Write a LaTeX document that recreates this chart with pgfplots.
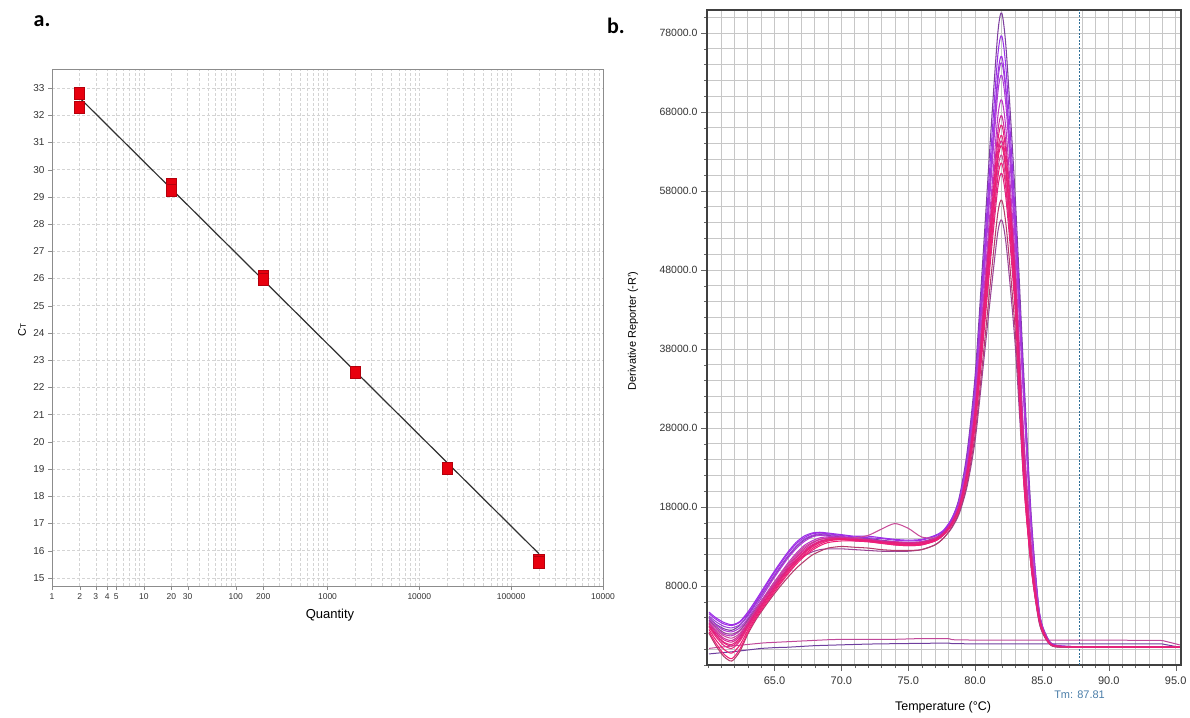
\documentclass[border=0pt]{standalone}
\usepackage{fontspec}
\setmainfont{Liberation Sans}
\newfontfamily\panelfont{Carlito}
\usepackage{pgfplots}
\pgfplotsset{compat=1.18}

% standard-curve colours
\definecolor{ptred}{HTML}{E8000E}
\definecolor{ptedge}{HTML}{B4000C}
\definecolor{fitline}{HTML}{303030}
% melt-curve colours (violet -> magenta)
\definecolor{m1}{HTML}{7E3FA0}
\definecolor{m2}{HTML}{9B30E8}
\definecolor{m3}{HTML}{A22CE6}
\definecolor{m4}{HTML}{9F3FD8}
\definecolor{m5}{HTML}{B03AD8}
\definecolor{m6}{HTML}{BF36C4}
\definecolor{m7}{HTML}{D02C9E}
\definecolor{m8}{HTML}{E4207C}
\definecolor{m9}{HTML}{E82A80}
\definecolor{m10}{HTML}{D8288E}
\definecolor{m11}{HTML}{EC1E74}
\definecolor{m12}{HTML}{C84C98}
\definecolor{m13}{HTML}{F01F78}
\definecolor{m14}{HTML}{DC2682}
\definecolor{m15}{HTML}{B43C6C}
\definecolor{m16}{HTML}{9A4496}
\definecolor{ntc1}{HTML}{C0489A}
\definecolor{ntc2}{HTML}{6E3E9E}
\definecolor{tmline}{HTML}{2E6E96}
\definecolor{tmtext}{HTML}{4A7DA8}

\pgfplotsset{melt/.style={line width=1.05pt, smooth, tension=0.45}}

\begin{document}
\begin{tikzpicture}
\path[use as bounding box] (0pt,0pt) rectangle (1190pt,717pt);
\node[font=\panelfont\bfseries\fontsize{22}{24}\selectfont] at (42pt,696pt) {a.};
\node[font=\panelfont\bfseries\fontsize{22}{24}\selectfont] at (616pt,691pt) {b.};

% ---------------- a. standard curve ----------------
\begin{axis}[
  scale only axis, width=551pt, height=517pt,
  at={(52pt,131pt)}, anchor=south west,
  xmode=log, xmin=1, xmax=1000000, ymin=14.7, ymax=33.7,
  xtick={1,2,3,4,5,10,20,30,100,200,1000,10000,100000,1000000},
  xticklabels={1,2,3,4,5,10,20,30,100,200,1000,10000,100000,10000},
  minor xtick={6,7,8,9,40,50,60,70,80,90,300,400,500,600,700,800,900,
    2000,3000,4000,5000,6000,7000,8000,9000,20000,30000,40000,50000,60000,70000,80000,90000,
    200000,300000,400000,500000,600000,700000,800000,900000},
  ytick={15,16,...,33},
  xmajorgrids, xminorgrids, ymajorgrids,
  grid style={densely dashed, draw=black!17, line width=0.6pt},
  axis line style={draw=black!45, line width=0.8pt},
  tick style={draw=black!45}, major tick length=4pt, minor tick length=0pt,
  tick align=outside, xtick pos=bottom, ytick pos=left,
  /pgf/number format/assume math mode=true,
  yticklabel style={font=\fontsize{10}{12}\selectfont, text=black!80},
  xticklabel style={font=\fontsize{8.5}{10}\selectfont, text=black!80},
  xlabel={Quantity},
  xlabel style={font=\fontsize{13}{15}\selectfont, at={(axis description cs:0.5045,-0.056)}, anchor=center},
  ylabel={C{\fontsize{8}{9}\selectfont T}},
  ylabel style={font=\fontsize{11}{13}\selectfont, at={(axis description cs:-0.0545,0.495)}, anchor=center},
]
\addplot[fitline, line width=1.2pt] coordinates {(2,32.64) (200000,15.89)};
\addplot[only marks, mark=square*, mark size=6pt,
  mark options={xscale=0.85, fill=ptred, draw=ptedge, line width=0.5pt}]
  coordinates {(2,32.8) (2,32.3) (20,29.45) (20,29.25) (200,26.1) (200,25.97)
               (2000,22.55) (20000,19.03) (200000,15.65) (200000,15.58)};
\end{axis}

% ---------------- b. melt curves ----------------
\begin{axis}[
  scale only axis, width=474pt, height=655pt,
  at={(707pt,52pt)}, anchor=south west,
  xmin=59.95, xmax=95.4, ymin=-2, ymax=80.9,
  clip mode=individual,
  xtick={65,70,...,95},
  xticklabels={65.0,70.0,75.0,80.0,85.0,90.0,95.0},
  minor xtick={60,61,...,95},
  ytick={8,18,...,78},
  yticklabels={8000.0,18000.0,28000.0,38000.0,48000.0,58000.0,68000.0,78000.0},
  minor ytick={-2,0,...,80},
  grid=both, grid style={draw=black!22, line width=0.7pt},
  axis line style={draw=black!75, line width=1.1pt},
  tick style={draw=black!60}, major tick length=6pt, minor tick length=3pt,
  tick align=outside, xtick pos=bottom, ytick pos=left,
  yticklabel style={font=\fontsize{10.5}{12}\selectfont, text=black!80},
  xticklabel style={font=\fontsize{11}{13}\selectfont, text=black!80, yshift=-2pt},
  xlabel={Temperature (°C)},
  xlabel style={font=\fontsize{12.5}{15}\selectfont, at={(axis description cs:0.498,-0.064)}, anchor=center},
  ylabel={Derivative Reporter (-R')},
  ylabel style={font=\fontsize{11}{13}\selectfont, at={(axis description cs:-0.156,0.51)}, anchor=center},
]
\addplot[tmline, line width=1pt, dash pattern=on 2pt off 1.5pt] coordinates {(87.81,-2) (87.81,80.9)};

% no-template controls
\addplot[ntc2, line width=1pt] coordinates {(60.1,-0.6) (61.0,-0.45) (62,-0.3) (63,-0.1) (64,0.1) (65,0.2) (66,0.25) (67,0.35) (68,0.45) (69,0.5) (70,0.55) (71,0.6) (72,0.65) (74,0.7) (76,0.74) (78.0,0.78) (78.3,0.7) (80,0.68) (90,0.68) (94,0.66) (95.3,0.25)};
\addplot[ntc1, line width=1pt] coordinates {(60.1,0.1) (60.6,0.2) (61.2,0.3) (61.8,0.4) (62.4,0.5) (63.0,0.6) (63.6,0.7) (64.2,0.8) (64.8,0.85) (65.4,0.9) (66.0,0.95) (66.6,1.0) (67.2,1.05) (67.8,1.1) (68.4,1.15) (69,1.2) (70,1.25) (72,1.25) (74,1.25) (75,1.3) (76,1.35) (77,1.35) (78.0,1.35) (78.3,1.2) (80,1.15) (85,1.15) (90,1.15) (94,1.1) (95.3,0.55)};

% sample melt curves (values in thousands)
\addplot[melt, m1] coordinates {(60.1,4.0) (60.6,3.2) (61.2,2.6) (61.8,2.4) (62.4,3.0) (63.0,4.3) (63.6,5.8) (64.2,7.3) (64.8,8.8) (65.4,10.3) (66.0,11.7) (66.6,12.9) (67.2,13.8) (67.8,14.3) (68.4,14.5) (69,14.4) (70,14.2) (71,14.1) (72,14.0) (73,13.8) (74,13.6) (75,13.5) (76,13.6) (77,14.1) (77.6,14.8) (78.2,16.2) (78.8,19.1) (79.4,24.9) (80.0,34.6) (80.6,49.9) (81.2,66.0) (81.7,78.0) (82.0,80.5) (82.35,75.3) (83.0,57.3) (83.6,36.2) (84.2,16.8) (84.8,4.8) (85.4,1.5) (86.0,0.5) (88,0.3) (91,0.3) (95.3,0.25)};
\addplot[melt, m2] coordinates {(60.1,4.7) (60.6,4.0) (61.2,3.4) (61.8,3.1) (62.4,3.5) (63.0,4.7) (63.6,6.2) (64.2,7.8) (64.8,9.4) (65.4,10.9) (66.0,12.3) (66.6,13.5) (67.2,14.3) (67.8,14.7) (68.4,14.8) (69,14.7) (70,14.5) (71,14.3) (72,14.3) (73,14.1) (74,13.9) (75,13.8) (76,13.9) (77,14.4) (77.6,15.0) (78.2,16.4) (78.8,18.9) (79.4,24.4) (80.0,33.6) (80.6,48.2) (81.2,63.5) (81.7,75.2) (82.0,77.6) (82.35,72.6) (83.0,55.0) (83.6,34.8) (84.2,16.2) (84.8,4.7) (85.4,1.4) (86.0,0.5) (88,0.3) (91,0.3) (95.3,0.25)};
\addplot[melt, m3] coordinates {(60.1,4.5) (60.6,3.8) (61.2,3.2) (61.8,3.0) (62.4,3.4) (63.0,4.5) (63.6,6.0) (64.2,7.6) (64.8,9.2) (65.4,10.7) (66.0,12.1) (66.6,13.3) (67.2,14.1) (67.8,14.6) (68.4,14.7) (69,14.6) (70,14.4) (71,14.2) (72,14.1) (73,14.0) (74,13.8) (75,13.7) (76,13.8) (77,14.3) (77.6,14.9) (78.2,16.3) (78.8,18.7) (79.4,23.9) (80.0,32.8) (80.6,46.8) (81.2,61.5) (81.7,72.7) (82.0,75.0) (82.35,70.1) (83.0,53.2) (83.6,33.6) (84.2,15.6) (84.8,4.5) (85.4,1.4) (86.0,0.5) (88,0.3) (91,0.3) (95.3,0.25)};
\addplot[melt, m4] coordinates {(60.1,4.2) (60.6,3.5) (61.2,2.9) (61.8,2.7) (62.4,3.1) (63.0,4.2) (63.6,5.7) (64.2,7.3) (64.8,8.9) (65.4,10.4) (66.0,11.8) (66.6,13.0) (67.2,13.9) (67.8,14.4) (68.4,14.6) (69,14.5) (70,14.3) (71,14.0) (72,13.9) (73,13.7) (74,13.5) (75,13.4) (76,13.5) (77,14.0) (77.6,14.7) (78.2,16.0) (78.8,18.6) (79.4,23.8) (80.0,32.5) (80.6,46.4) (81.2,60.9) (81.7,71.9) (82.0,74.2) (82.35,69.4) (83.0,52.6) (83.6,33.2) (84.2,15.4) (84.8,4.5) (85.4,1.3) (86.0,0.4) (88,0.3) (91,0.3) (95.3,0.25)};
\addplot[melt, m5] coordinates {(60.1,3.9) (60.6,3.1) (61.2,2.4) (61.8,2.2) (62.4,2.7) (63.0,3.9) (63.6,5.4) (64.2,7.0) (64.8,8.6) (65.4,10.1) (66.0,11.5) (66.6,12.7) (67.2,13.6) (67.8,14.2) (68.4,14.4) (69,14.3) (70,14.1) (71,13.9) (72,13.7) (73,13.5) (74,13.3) (75,13.2) (76,13.3) (77,13.8) (77.6,14.5) (78.2,15.8) (78.8,18.5) (79.4,23.6) (80.0,32.0) (80.6,45.5) (81.2,59.6) (81.7,70.4) (82.0,72.6) (82.35,67.9) (83.0,51.5) (83.6,32.5) (84.2,15.1) (84.8,4.4) (85.4,1.3) (86.0,0.4) (88,0.3) (91,0.3) (95.3,0.25)};
\addplot[melt, m6] coordinates {(60.1,3.6) (60.6,2.7) (61.2,1.9) (61.8,1.7) (62.4,2.3) (63.0,3.6) (63.6,5.1) (64.2,6.6) (64.8,8.1) (65.4,9.5) (66.0,10.9) (66.6,12.1) (67.2,13.1) (67.8,13.7) (68.4,14.1) (69,14.2) (70,14.1) (71,13.9) (72,13.8) (73,13.6) (74,13.4) (75,13.3) (76,13.4) (77,13.9) (77.6,14.6) (78.2,15.9) (78.8,18.3) (79.4,23.0) (80.0,31.1) (80.6,43.9) (81.2,57.2) (81.7,67.4) (82.0,69.5) (82.35,65.0) (83.0,49.3) (83.6,28.3) (84.2,13.1) (84.8,4.2) (85.4,1.3) (86.0,0.4) (88,0.3) (91,0.3) (95.3,0.25)};
\addplot[melt, m16] coordinates {(60.1,3.7) (60.6,2.9) (61.2,2.1) (61.8,1.9) (62.4,2.4) (63.0,3.7) (63.6,5.1) (64.2,6.5) (64.8,7.8) (65.4,9.0) (66.0,10.1) (66.6,11.0) (67.2,11.8) (67.8,12.3) (68.4,12.6) (69,12.7) (70,12.7) (71,12.6) (72,12.5) (73,12.4) (74,12.4) (75,12.4) (76,12.6) (77,13.2) (77.6,14.0) (78.2,15.2) (78.8,17.1) (79.4,20.6) (80.0,26.4) (80.6,35.7) (81.2,45.4) (81.7,52.8) (82.0,54.3) (82.35,50.8) (83.0,38.5) (83.6,22.1) (84.2,10.3) (84.8,3.3) (85.4,1.0) (86.0,0.3) (88,0.3) (91,0.3) (95.3,0.25)};
\addplot[melt, m12] coordinates {(60.1,3.4) (60.6,2.5) (61.2,1.7) (61.8,1.4) (62.4,2.0) (63.0,3.4) (63.6,5.0) (64.2,6.5) (64.8,8.0) (65.4,9.4) (66.0,10.7) (66.6,11.9) (67.2,12.9) (67.8,13.5) (68.4,13.9) (69,14.0) (70,14.0) (71,14.1) (72,14.4) (73,15.2) (74,15.9) (75,15.3) (76,14.2) (77,14.1) (77.6,14.6) (78.2,15.8) (78.8,17.7) (79.4,21.9) (80.0,28.9) (80.6,40.1) (81.2,51.8) (81.7,60.7) (82.0,62.5) (82.35,58.4) (83.0,44.3) (83.6,25.4) (84.2,11.8) (84.8,3.8) (85.4,1.1) (86.0,0.4) (88,0.3) (91,0.3) (95.3,0.25)};
\addplot[melt, m7] coordinates {(60.1,3.3) (60.6,2.3) (61.2,1.4) (61.8,1.1) (62.4,1.8) (63.0,3.3) (63.6,4.9) (64.2,6.4) (64.8,7.8) (65.4,9.2) (66.0,10.5) (66.6,11.7) (67.2,12.7) (67.8,13.4) (68.4,13.9) (69,14.1) (70,14.2) (71,14.0) (72,13.9) (73,13.7) (74,13.6) (75,13.5) (76,13.6) (77,14.0) (77.6,14.7) (78.2,16.0) (78.8,18.1) (79.4,22.7) (80.0,30.5) (80.6,42.8) (81.2,55.7) (81.7,65.5) (82.0,67.5) (82.35,63.1) (83.0,47.9) (83.6,27.5) (84.2,12.8) (84.8,4.1) (85.4,1.2) (86.0,0.4) (88,0.3) (91,0.3) (95.3,0.25)};
\addplot[melt, m10] coordinates {(60.1,3.2) (60.6,2.1) (61.2,1.2) (61.8,0.9) (62.4,1.6) (63.0,3.1) (63.6,4.7) (64.2,6.2) (64.8,7.6) (65.4,9.0) (66.0,10.3) (66.6,11.5) (67.2,12.5) (67.8,13.2) (68.4,13.7) (69,13.9) (70,13.9) (71,13.7) (72,13.6) (73,13.4) (74,13.2) (75,13.1) (76,13.2) (77,13.7) (77.6,14.4) (78.2,15.7) (78.8,17.9) (79.4,22.2) (80.0,29.5) (80.6,41.1) (81.2,53.2) (81.7,62.4) (82.0,64.3) (82.35,60.1) (83.0,45.6) (83.6,26.2) (84.2,12.2) (84.8,3.9) (85.4,1.2) (86.0,0.4) (88,0.3) (91,0.3) (95.3,0.25)};
\addplot[melt, m15] coordinates {(60.1,2.0) (60.6,0.5) (61.2,-0.9) (61.8,-1.5) (62.4,-0.3) (63.0,1.9) (63.6,3.7) (64.2,5.2) (64.8,6.6) (65.4,7.9) (66.0,9.1) (66.6,10.2) (67.2,11.1) (67.8,11.9) (68.4,12.4) (69,12.8) (70,13.0) (71,12.9) (72,12.8) (73,12.6) (74,12.5) (75,12.5) (76,12.6) (77,13.2) (77.6,14.0) (78.2,15.3) (78.8,17.3) (79.4,21.0) (80.0,27.2) (80.6,37.0) (81.2,47.3) (81.7,55.2) (82.0,56.8) (82.35,53.1) (83.0,40.3) (83.6,23.1) (84.2,10.7) (84.8,3.4) (85.4,1.0) (86.0,0.3) (88,0.3) (91,0.3) (95.3,0.25)};
\addplot[melt, m14] coordinates {(60.1,2.9) (60.6,1.8) (61.2,0.8) (61.8,0.4) (62.4,1.2) (63.0,2.8) (63.6,4.4) (64.2,5.9) (64.8,7.3) (65.4,8.7) (66.0,10.0) (66.6,11.2) (67.2,12.2) (67.8,13.0) (68.4,13.5) (69,13.8) (70,13.9) (71,13.8) (72,13.7) (73,13.5) (74,13.3) (75,13.2) (76,13.3) (77,13.7) (77.6,14.4) (78.2,15.6) (78.8,17.6) (79.4,21.5) (80.0,28.2) (80.6,38.9) (81.2,50.0) (81.7,58.4) (82.0,60.2) (82.35,56.3) (83.0,42.7) (83.6,22.1) (84.2,10.3) (84.8,3.6) (85.4,1.1) (86.0,0.4) (88,0.3) (91,0.3) (95.3,0.25)};
\addplot[melt, m9] coordinates {(60.1,2.8) (60.6,1.6) (61.2,0.5) (61.8,0.1) (62.4,1.0) (63.0,2.7) (63.6,4.3) (64.2,5.8) (64.8,7.2) (65.4,8.6) (66.0,9.9) (66.6,11.1) (67.2,12.1) (67.8,12.9) (68.4,13.5) (69,13.8) (70,13.9) (71,13.8) (72,13.7) (73,13.5) (74,13.4) (75,13.3) (76,13.4) (77,13.8) (77.6,14.5) (78.2,15.7) (78.8,17.9) (79.4,22.3) (80.0,29.7) (80.6,41.4) (81.2,53.7) (81.7,63.1) (82.0,65.0) (82.35,60.8) (83.0,46.1) (83.6,23.9) (84.2,11.1) (84.8,3.9) (85.4,1.2) (86.0,0.4) (88,0.3) (91,0.3) (95.3,0.25)};
\addplot[melt, m11] coordinates {(60.1,2.5) (60.6,1.2) (61.2,0.0) (61.8,-0.5) (62.4,0.5) (63.0,2.4) (63.6,4.1) (64.2,5.6) (64.8,7.0) (65.4,8.4) (66.0,9.7) (66.6,10.9) (67.2,11.9) (67.8,12.7) (68.4,13.3) (69,13.7) (70,13.9) (71,13.8) (72,13.7) (73,13.5) (74,13.3) (75,13.2) (76,13.3) (77,13.8) (77.6,14.5) (78.2,15.7) (78.8,17.8) (79.4,22.1) (80.0,29.3) (80.6,40.7) (81.2,52.7) (81.7,61.8) (82.0,63.7) (82.35,59.6) (83.0,45.2) (83.6,23.3) (84.2,10.8) (84.8,3.8) (85.4,1.1) (86.0,0.4) (88,0.3) (91,0.3) (95.3,0.25)};
\addplot[melt, m13] coordinates {(60.1,2.2) (60.6,0.8) (61.2,-0.6) (61.8,-1.2) (62.4,0.0) (63.0,2.1) (63.6,3.9) (64.2,5.4) (64.8,6.8) (65.4,8.2) (66.0,9.5) (66.6,10.7) (67.2,11.7) (67.8,12.5) (68.4,13.1) (69,13.5) (70,13.7) (71,13.7) (72,13.6) (73,13.4) (74,13.2) (75,13.1) (76,13.2) (77,13.7) (77.6,14.4) (78.2,15.6) (78.8,17.7) (79.4,21.7) (80.0,28.6) (80.6,39.6) (81.2,51.0) (81.7,59.7) (82.0,61.5) (82.35,57.5) (83.0,43.6) (83.6,22.5) (84.2,10.4) (84.8,3.7) (85.4,1.1) (86.0,0.4) (88,0.3) (91,0.3) (95.3,0.25)};
\addplot[melt, m8] coordinates {(60.1,3.0) (60.6,1.9) (61.2,0.9) (61.8,0.6) (62.4,1.4) (63.0,3.0) (63.6,4.6) (64.2,6.0) (64.8,7.4) (65.4,8.8) (66.0,10.1) (66.6,11.3) (67.2,12.3) (67.8,13.1) (68.4,13.6) (69,13.9) (70,14.0) (71,13.9) (72,13.8) (73,13.6) (74,13.5) (75,13.4) (76,13.5) (77,13.9) (77.6,14.6) (78.2,15.8) (78.8,18.0) (79.4,22.5) (80.0,30.1) (80.6,42.1) (81.2,54.7) (81.7,64.3) (82.0,66.3) (82.35,62.0) (83.0,47.0) (83.6,24.3) (84.2,11.3) (84.8,4.0) (85.4,1.2) (86.0,0.4) (88,0.3) (91,0.3) (95.3,0.25)};

\node[text=tmtext, font=\fontsize{11}{13}\selectfont] at (axis cs:87.81,-5.8) {Tm: 87.81};
\end{axis}
\end{tikzpicture}
\end{document}
